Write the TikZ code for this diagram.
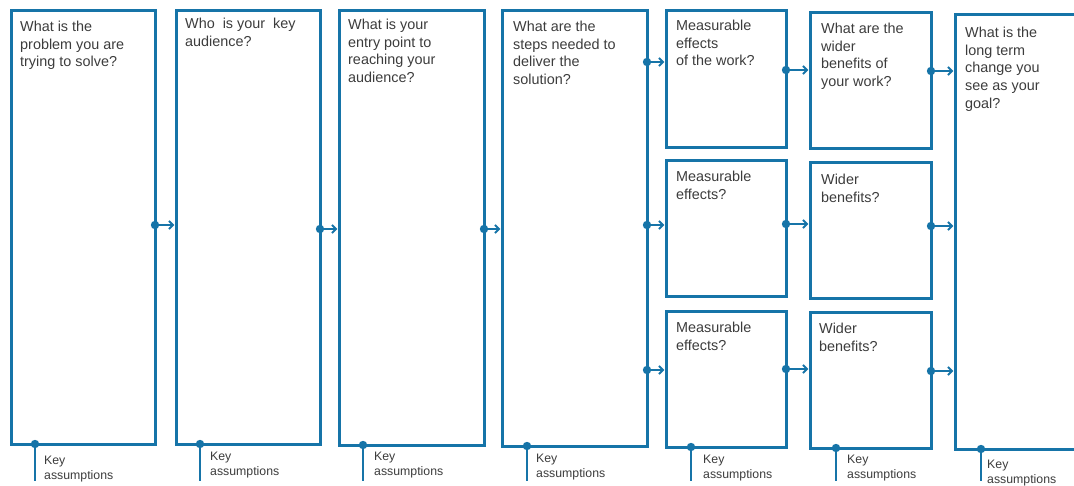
\documentclass[tikz,border=0pt]{standalone}
\usepackage{fontspec}
\setmainfont{Liberation Sans}
\usetikzlibrary{arrows.meta}
\definecolor{frame}{RGB}{22,116,168}
\definecolor{ink}{RGB}{60,60,60}
% box: name, left, top, right, bottom
\newcommand\stagebox[5]{%
  \node[box, minimum width={#4-#2}, minimum height={#5-#3}] (#1) at (#2,#3) {};}
% link: source box, target box, height
\newcommand\stagelink[3]{%
  \coordinate (tmp) at (0,#3);
  \fill[frame] (#1.east |- tmp) circle (4.2);
  \draw[link] (#1.east |- tmp) -- (#2.west |- tmp);}
% assumptions note: box, x of the joint, free end name, text x, text top
\newcommand\keynote[5]{%
  \coordinate (tmp) at (#2,0);
  \coordinate (#3) at (#2,481);
  \fill[frame] (#1.south -| tmp) circle (4.2);
  \draw[keyline] (#1.south -| tmp) -- (#3);
  \node[note] at (#4,#5) {Key\\assumptions};}
\begin{document}
\begin{tikzpicture}[x=1pt,y=-1pt,
  box/.style={draw=frame, line width=3pt, rectangle, inner sep=0pt, outer sep=0pt, anchor=north west},
  question/.style={anchor=north west, inner sep=0pt, align=left, text=ink,
    font=\fontsize{14.4}{17.6}\selectfont},
  note/.style={anchor=north west, inner sep=0pt, align=left, text=ink,
    font=\fontsize{12.3}{14.8}\selectfont},
  link/.style={frame, line width=2pt, shorten >=1.6pt,
    -{Straight Barb[length=4pt,width=8pt,line width=2pt]}},
  keyline/.style={frame, line width=2.4pt}
]
\clip (0,0) rectangle (1074,486);

% stage boxes
\stagebox{b1}{11}{11}{155}{444}
\stagebox{b2}{176}{11}{320}{444}
\stagebox{b3}{339}{11}{484}{445}
\stagebox{b4}{502}{11}{647}{446}
\stagebox{b5a}{666}{11}{786}{148}
\stagebox{b5b}{666}{161}{786}{297}
\stagebox{b5c}{666}{312}{786}{447}
\stagebox{b6a}{810}{13}{931}{149}
\stagebox{b6b}{810}{163}{931}{299}
\stagebox{b6c}{810}{313}{931}{448}
\stagebox{b7}{955}{15}{1095}{449}

% questions
\node[question] (q1) at (20,21) {What is the\\problem you are\\trying to solve?};
\node[question] (q2) at (185,18) {Who\ \ is your\ \ key\\audience?};
\node[question] (q3) at (348,19) {What is your\\entry point to\\reaching your\\audience?};
\node[question] (q4) at (513,21) {What are the\\steps needed to\\deliver the\\solution?};
\node[question] (q5a) at (676,20) {Measurable\\effects\\of the work?};
\node[question] (q5b) at (676,171) {Measurable\\effects?};
\node[question] (q5c) at (676,322) {Measurable\\effects?};
\node[question] (q6a) at (821,23) {What are the\\wider\\benefits of\\your work?};
\node[question] (q6b) at (821,174) {Wider\\benefits?};
\node[question] (q6c) at (819,323) {Wider\\benefits?};
\node[question] (q7) at (965,27) {What is the\\long term\\change you\\see as your\\goal?};

% links between stages
\stagelink{b1}{b2}{225}
\stagelink{b2}{b3}{229}
\stagelink{b3}{b4}{229}
\stagelink{b4}{b5a}{62}
\stagelink{b4}{b5b}{225}
\stagelink{b4}{b5c}{370}
\stagelink{b5a}{b6a}{70}
\stagelink{b5b}{b6b}{224}
\stagelink{b5c}{b6c}{369}
\stagelink{b6a}{b7}{71}
\stagelink{b6b}{b7}{226}
\stagelink{b6c}{b7}{371}

% key assumptions under every stage
\keynote{b1}{35}{k1}{44}{456}
\keynote{b2}{200}{k2}{210}{452}
\keynote{b3}{363}{k3}{374}{452}
\keynote{b4}{527}{k4}{536}{454}
\keynote{b5c}{691}{k5}{703}{455}
\keynote{b6c}{836}{k6}{847}{455}
\keynote{b7}{981}{k7}{987}{460}
\end{tikzpicture}
\end{document}
